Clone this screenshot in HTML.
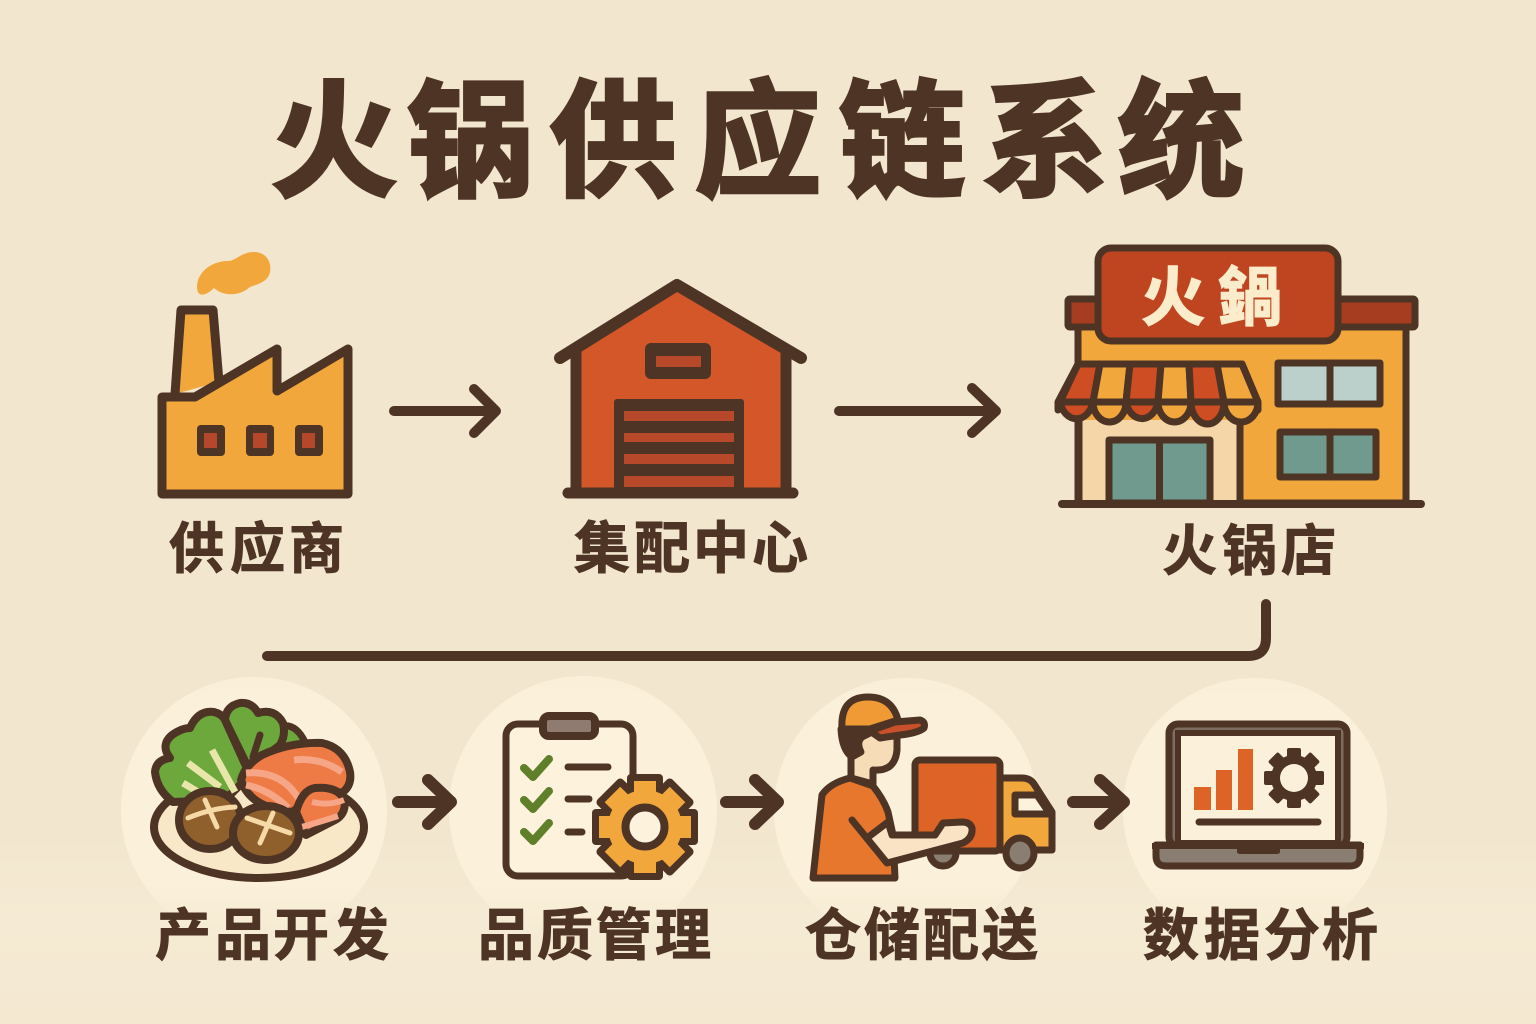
<!DOCTYPE html>
<html><head><meta charset="utf-8"><style>
html,body{margin:0;padding:0;background:#f2e6ce}
svg{display:block}
text{font-family:"Liberation Sans","Noto Sans CJK SC",sans-serif;font-weight:700;fill:#4e3424}
</style></head><body>
<svg width="1536" height="1024" viewBox="0 0 1536 1024" xmlns="http://www.w3.org/2000/svg">
<defs>
<linearGradient id="c" x1="0" y1="0" x2="0" y2="1"><stop offset="0" stop-color="#fbf1da" stop-opacity="0.9"/><stop offset="0.1" stop-color="#fbf1da"/><stop offset="0.78" stop-color="#fbf1da"/><stop offset="0.9" stop-color="#f9eed6" stop-opacity="0.6"/><stop offset="1" stop-color="#f7ebd3" stop-opacity="0.2"/></linearGradient>
<linearGradient id="b" x1="0" y1="0" x2="0" y2="1"><stop offset="0" stop-color="#f5ead3" stop-opacity="0"/><stop offset="0.45" stop-color="#f5ead3"/><stop offset="1" stop-color="#f4e8d1"/></linearGradient>
</defs>
<rect width="1536" height="1024" fill="#f2e6ce"/>
<rect y="830" width="1536" height="194" fill="url(#b)"/>
<circle cx="254" cy="810" r="133" fill="url(#c)"/>
<circle cx="583" cy="810" r="134" fill="url(#c)"/>
<circle cx="906" cy="810" r="132" fill="url(#c)"/>
<circle cx="1255" cy="810" r="132" fill="url(#c)"/>

<text x="271 407 550 695 839 982 1118" y="186" font-size="126" stroke="#4e3424" stroke-width="4" stroke-linejoin="miter">火锅供应链系统</text>

<!-- factory -->
<g stroke="#4e3424" stroke-width="9" stroke-linejoin="round" stroke-linecap="round" fill="#f2a73d">
<path d="M175 394L181 310H213L219 382" />
<path d="M162 397H195L277 349V391L348 349V494H162Z"/>
</g>
<g fill="#4e3424"><rect x="197" y="425" width="28" height="31" rx="4"/><rect x="246" y="425" width="28" height="31" rx="4"/><rect x="295" y="425" width="28" height="31" rx="4"/></g>
<g fill="#b5482a"><rect x="204" y="433" width="13" height="15"/><rect x="253" y="433" width="14" height="15"/><rect x="302" y="433" width="13" height="15"/></g>
<path d="M197 287C197 273 210 262 226 261C236 262 240 252 254 252C266 252 272 262 270 272C268 282 258 284 250 287C240 296 224 297 214 288C206 296 197 298 197 287Z" fill="#f2a73d"/>

<!-- warehouse -->
<path d="M576 352L677 288L786 352V493H576Z" fill="#d4572a"/>
<g stroke="#4e3424" fill="none" stroke-linecap="round" stroke-linejoin="round">
<path d="M560 358L677 285L801 358" stroke-width="12"/>
<path d="M576 350V493M786 350V493" stroke-width="11"/>
<path d="M568 493H793" stroke-width="11"/>
</g>
<rect x="645" y="343" width="66" height="36" rx="6" fill="#4e3424"/>
<rect x="656" y="356" width="45" height="11" fill="#b8482a"/>
<rect x="614" y="399" width="130" height="92" rx="3" fill="#4e3424"/>
<g fill="#b8482a"><rect x="624" y="411" width="110" height="10"/><rect x="624" y="433" width="110" height="9"/><rect x="624" y="454" width="110" height="10"/><rect x="624" y="476" width="110" height="11"/></g>

<!-- store -->
<g stroke="#4e3424" stroke-linejoin="round" stroke-linecap="round">
<rect x="1078" y="325" width="328" height="178" fill="#f2a73d" stroke-width="7"/>
<rect x="1079" y="420" width="161" height="83" fill="#f5d6a8" stroke="none"/>
<path d="M1079 420V503M1240 420V503" stroke-width="7" fill="none"/>
<rect x="1068" y="299" width="347" height="28" rx="2" fill="#a63d20" stroke-width="7"/>
<rect x="1098" y="248" width="240" height="93" rx="13" fill="#bf4420" stroke-width="7"/>
<rect x="1109" y="440" width="101" height="63" fill="#6f9a8d" stroke-width="7"/>
<path d="M1159.500 440V503" stroke-width="7"/>
<rect x="1278" y="363" width="102" height="41" fill="#bcd0cb" stroke-width="7"/>
<path d="M1330 363V404" stroke-width="7"/>
<rect x="1280" y="432" width="96" height="45" fill="#6f9a8d" stroke-width="7"/>
<path d="M1330 432V477" stroke-width="7"/>
<!-- scallops -->
<g stroke-width="7">
<path d="M1060 402A17 22 0 0 0 1093 402Z" fill="#cf4d23"/>
<path d="M1093 402A16.500 20 0 0 0 1126 402Z" fill="#f2a73d"/>
<path d="M1126 402A16.500 22 0 0 0 1158 402Z" fill="#cf4d23"/>
<path d="M1158 402A16.500 20 0 0 0 1191 402Z" fill="#f2a73d"/>
<path d="M1191 402A16.500 22 0 0 0 1224 402Z" fill="#cf4d23"/>
<path d="M1224 402A17 20 0 0 0 1258 402Z" fill="#f2a73d"/>
</g>
<!-- awning -->
<g stroke-width="7">
<path d="M1078 364H1100L1093 402H1060Z" fill="#cf4d23"/>
<path d="M1100 364H1130L1126 402H1093Z" fill="#f2a73d"/>
<path d="M1130 364H1161L1158 402H1126Z" fill="#cf4d23"/>
<path d="M1161 364H1189L1191 402H1158Z" fill="#f2a73d"/>
<path d="M1189 364H1217L1224 402H1191Z" fill="#cf4d23"/>
<path d="M1217 364H1242L1258 402H1224Z" fill="#f2a73d"/>
</g>
<path d="M1078 364L1058 402V410" fill="none" stroke-width="7"/>
<path d="M1242 364L1258 402V410" fill="none" stroke-width="7"/>
<path d="M1062 504H1421" stroke-width="8" fill="none"/>
</g>
<text x="1141 1218" y="320" font-size="64" style="fill:#fbeccb" stroke="#fbeccb" stroke-width="1.500">火鍋</text>

<!-- arrows top -->
<g fill="none" stroke="#4e3424" stroke-width="10" stroke-linecap="round" stroke-linejoin="round">
<path d="M394 411H494M474 389L496 411L474 433"/>
<path d="M839 411H994M972 388L996 411L972 433"/>
</g>

<!-- connector -->
<path d="M1266 604V638Q1266 656 1248 656H267" fill="none" stroke="#4e3424" stroke-width="10" stroke-linecap="round"/>

<!-- labels -->
<g stroke="#4e3424" stroke-width="1">
<text x="169 230 289" y="568" font-size="55">供应商</text>
<text x="574 634 693 752" y="568" font-size="56">集配中心</text>
<text x="1162 1222 1281" y="570" font-size="55">火锅店</text>
<text x="155 215 273 333" y="955" font-size="56">产品开发</text>
<text x="478 537 596 655" y="955" font-size="56">品质管理</text>
<text x="805 864 923 982" y="955" font-size="56">仓储配送</text>
<text x="1143 1204 1264 1322" y="955" font-size="56">数据分析</text>
</g>

<!-- food -->
<g stroke="#4e3424" stroke-linejoin="round" stroke-linecap="round">
<ellipse cx="259" cy="827" rx="105" ry="51" fill="#f8e8c8" stroke-width="8"/>
<path d="M275 745L283 726Q296 724 305 742L280 760Z" fill="#6da83c" stroke-width="7"/>
<path d="M247 765L225 720Q226 706 240 703Q252 702 258 713Q275 708 283 723Q286 735 280 745L250 768Z" fill="#6da83c" stroke-width="8"/>
<path d="M173 802Q157 790 155 772Q156 760 170 758Q160 745 172 735Q182 728 190 728Q198 710 214 712Q222 714 225 720L250 775L225 800Z" fill="#6da83c" stroke-width="8"/>
<path d="M260 735L253 757" fill="none" stroke-width="7"/>
<path d="M188 763L220 787M212 750L235 792M183 783L198 792" fill="none" stroke="#e9e6ab" stroke-width="7" stroke-linecap="butt"/>
<path d="M241 780Q245 765 262 755Q290 742 322 743Q345 748 350 772Q352 785 343 792L302 805L292 812Q250 808 241 780Z" fill="#ee7a45" stroke-width="8"/>
<path d="M246 773Q285 770 302 805M246 785Q270 790 288 808M294 760Q320 757 342 772" fill="none" stroke="#f6a687" stroke-width="7" stroke-linecap="butt"/>
<path d="M296 812Q302 790 315 788Q340 786 345 802Q345 815 335 820L306 835Z" fill="#ee7a45" stroke-width="8"/>
<path d="M312 802Q328 806 344 800M298 828Q320 822 338 816" fill="none" stroke="#f6a687" stroke-width="6" stroke-linecap="butt"/>
<ellipse cx="210" cy="820" rx="31" ry="29" fill="#8f5f2c" stroke-width="8"/>
<ellipse cx="266" cy="833" rx="33" ry="27" fill="#8f5f2c" stroke-width="8"/>
<path d="M188 818Q212 808 235 807M205 800L217 827M247 818L290 833M273 813L260 843" fill="none" stroke="#f5d9a7" stroke-width="5"/>
</g>

<!-- arrows row 2 -->
<g fill="none" stroke="#4e3424" stroke-width="12" stroke-linecap="round" stroke-linejoin="round">
<path d="M398 802H448M428 780L451 802L428 824"/>
<path d="M726 802H774M755 780L778 802L755 824"/>
<path d="M1073 802H1121M1100 780L1124 802L1100 824"/>
</g>

<!-- clipboard -->
<rect x="506" y="724" width="127" height="152" rx="12" fill="#fdf3dc" stroke="#4e3424" stroke-width="7"/>
<rect x="543" y="716" width="52" height="20" rx="6" fill="#8f7b70" stroke="#4e3424" stroke-width="8"/>
<g fill="none" stroke="#5f7f2a" stroke-width="8" stroke-linecap="round" stroke-linejoin="round">
<path d="M524 768L533 777L549 759M524 800L533 809L549 791M524 832L533 841L549 823"/>
</g>
<path d="M568 767H608M568 799H589M568 832H582" stroke="#4e3424" stroke-width="7" stroke-linecap="round" fill="none"/>
<g transform="translate(645 827)">
<g fill="#4e3424"><rect x="-18" y="-53" width="36" height="106" rx="4"/><rect x="-18" y="-53" width="36" height="106" rx="4" transform="rotate(45)"/><rect x="-18" y="-53" width="36" height="106" rx="4" transform="rotate(90)"/><rect x="-18" y="-53" width="36" height="106" rx="4" transform="rotate(135)"/><circle r="44"/></g>
<g fill="#f2a73d"><rect x="-11" y="-46" width="22" height="92"/><rect x="-11" y="-46" width="22" height="92" transform="rotate(45)"/><rect x="-11" y="-46" width="22" height="92" transform="rotate(90)"/><rect x="-11" y="-46" width="22" height="92" transform="rotate(135)"/><circle r="37"/></g>
<circle r="19.500" fill="#fdf3dc" stroke="#4e3424" stroke-width="8"/>
</g>

<!-- truck -->
<g stroke="#4e3424" stroke-width="7" stroke-linejoin="round" stroke-linecap="round">
<circle cx="943" cy="853" r="13" fill="#8a7d72"/>
<path d="M1000 778H1022Q1030 778 1034 784L1052 812V850H1000Z" fill="#f2a73d"/>
<path d="M1015 795H1037L1050 814H1015Z" fill="#fdf3dc"/>
<rect x="915" y="760" width="85" height="91" rx="5" fill="#dd6426"/>
<ellipse cx="1020" cy="853" rx="14" ry="15" fill="#8a7d72"/>
</g>
<!-- person -->
<g stroke="#4e3424" stroke-width="7" stroke-linejoin="round" stroke-linecap="round">
<path d="M851 750V778L873 784V770Q895 772 897 750V725H851Z" fill="#f7dcb8"/>
<path d="M841 729Q842 750 852 757L861 752Q856 742 862 737L872 732V729Z" fill="#4e3424"/>
<path d="M842 729Q840 697 868 697Q892 697 898 720L870 729Z" fill="#f09a35"/>
<path d="M870 731L895 722L920 720Q926 722 924 728Q918 733 900 735L880 738Z" fill="#c9502a"/>
<path d="M850 778L873 786Q884 800 888 812L893 835L895 878H813L822 795Q830 783 850 778Z" fill="#e8772e"/>
<path d="M868 838L887 823L893 835H935L943 824L965 822Q974 826 971 834Q968 842 963 843L887 863Z" fill="#f9e3c4" stroke="none"/>
<path d="M852 820L887 863L963 843Q973 838 972 828Q970 822 962 822L943 823L935 835H892L888 822L867 838" fill="none"/>
</g>

<!-- laptop -->
<rect x="1169" y="724" width="178" height="122" rx="9" fill="#7d6d60" stroke="#4e3424" stroke-width="7"/>
<rect x="1178" y="733" width="160" height="110" fill="#fbf1da" stroke="#4e3424" stroke-width="6"/>
<path d="M1156 845H1360V856Q1360 866 1350 866H1166Q1156 866 1156 856Z" fill="#8a7d72" stroke="#4e3424" stroke-width="7" stroke-linejoin="round"/>
<path d="M1152 843H1364V849H1152ZM1237 848H1280V852Q1280 854 1276 854H1241Q1237 854 1237 852Z" fill="#4e3424"/>
<rect x="1194" y="787" width="17" height="23" fill="#dd6426"/>
<rect x="1216" y="770" width="16" height="40" fill="#dd6426"/>
<rect x="1238" y="749" width="15" height="61" fill="#dd6426"/>
<path d="M1199 822H1318" stroke="#4e3424" stroke-width="7" stroke-linecap="round"/>
<g transform="translate(1294 778)" fill="#4e3424">
<rect x="-7" y="-30" width="14" height="60" rx="2"/><rect x="-7" y="-30" width="14" height="60" rx="2" transform="rotate(45)"/><rect x="-7" y="-30" width="14" height="60" rx="2" transform="rotate(90)"/><rect x="-7" y="-30" width="14" height="60" rx="2" transform="rotate(135)"/>
<circle r="23"/><circle r="14" fill="#fbf1da"/>
</g>
</svg>
</body></html>
